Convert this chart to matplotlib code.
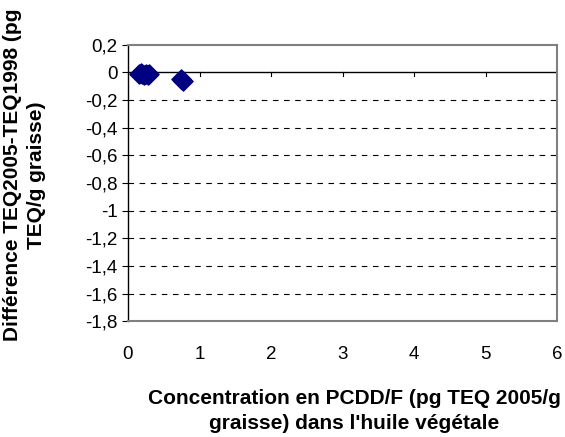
import matplotlib.pyplot as plt
from matplotlib.ticker import FuncFormatter

# Données
conc_pcdd = [0.15, 0.18, 0.20, 0.22, 0.25, 0.28, 0.30, 0.74, 0.77]
diff_teq = [-0.01, -0.005, -0.015, -0.02, -0.01, -0.02, -0.015, -0.05, -0.06]

x_ticks = [0, 1, 2, 3, 4, 5, 6]
y_ticks = [0.2, 0, -0.2, -0.4, -0.6, -0.8, -1, -1.2, -1.4, -1.6, -1.8]

plt.rcParams['font.family'] = ['Liberation Sans', 'DejaVu Sans']

fig = plt.figure(figsize=(5.65, 4.37), dpi=100)
ax = fig.add_axes([0.2265, 0.265, 0.76, 0.633])

ax.set_xlim(0, 6)
ax.set_ylim(-1.8, 0.2)

# grille pointillée
for y in y_ticks:
    if y not in (0, 0.2, -1.8):
        ax.axhline(y, color='black', linestyle=(0, (5, 5)), linewidth=0.8, zorder=1)

# axe horizontal à y=0 avec graduations
ax.axhline(0, color='black', linewidth=1.0, zorder=2)
for x in x_ticks[1:]:
    ax.plot([x, x], [0, -0.025], color='black', linewidth=0.8, zorder=2)

ax.scatter(conc_pcdd, diff_teq, marker='D', s=95, color='#000080', zorder=3)

for side in ['top', 'right', 'bottom']:
    ax.spines[side].set_color('#808080')
    ax.spines[side].set_linewidth(1.5)
ax.spines['left'].set_color('black')
ax.spines['left'].set_linewidth(1.0)

fmt = FuncFormatter(lambda v, p: ('%g' % round(v, 1)).replace('.', ','))
ax.set_yticks(y_ticks)
ax.yaxis.set_major_formatter(fmt)
ax.set_xticks(x_ticks)
ax.tick_params(axis='x', length=0, pad=18, labelsize=13.5)
ax.tick_params(axis='y', length=4, direction='out', labelsize=13.5)

fig.text(0.6265, 0.0595, "Concentration en PCDD/F (pg TEQ 2005/g\ngraisse) dans l'huile végétale",
         fontsize=15, fontweight='bold', ha='center', va='center', linespacing=1.35)
fig.text(0.044, 0.6, "Différence TEQ2005-TEQ1998 (pg\nTEQ/g graisse)",
         fontsize=15, fontweight='bold', ha='center', va='center', rotation=90,
         linespacing=1.35)

fig.savefig('out.png', dpi=100)
